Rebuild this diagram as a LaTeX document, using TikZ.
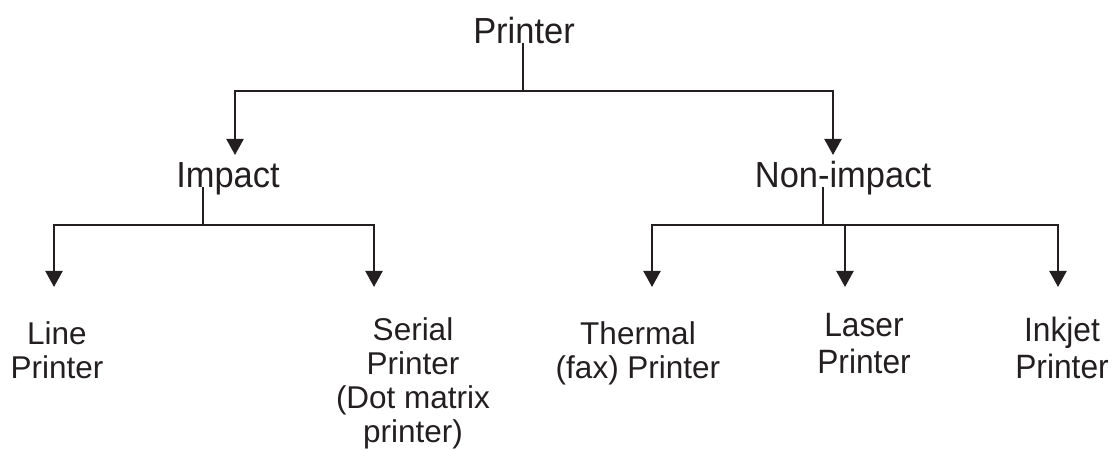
\documentclass[tikz,border=0pt]{standalone}
\usepackage{fontspec}
\setmainfont{Liberation Sans}
\newfontfamily\narrowsf[FakeStretch=0.95]{Liberation Sans}
\newfontfamily\tallsf[FakeStretch=0.94]{Liberation Sans}
\usetikzlibrary{arrows.meta}
\definecolor{ink}{RGB}{35,31,32}
\tikzset{
  head/.style={font=\narrowsf\fontsize{25.8}{28}\selectfont, inner sep=0pt, anchor=base},
  leaf/.style={font=\fontsize{22.4}{24.6}\selectfont, inner sep=0pt, anchor=north, align=center},
  tall/.style={font=\tallsf\fontsize{24}{26.4}\selectfont},
  branch/.style={-{Triangle[length=11.4pt,width=12pt]}},
}
\begin{document}
\begin{tikzpicture}[x=0.025cm, y=-0.025cm, line width=1.9pt, color=ink]
        \useasboundingbox (0,0) rectangle (1116,450);
        % classes
        \node[head] (printer) at (524,43) {Printer};
        \node[head] (impact) at (228,187) {Impact};
        \node[head] (nonimpact) at (843,187) {Non-impact};
        % kinds
        \node[leaf] (line) at (57,320) {Line\\Printer};
        \node[leaf, font=\fontsize{22.4}{24.2}\selectfont] (serial) at (413,316) {Serial\\Printer\\(Dot matrix\\printer)};
        \node[leaf] (thermal) at (638,320) {Thermal\\(fax) Printer};
        \node[leaf, tall] (laser) at (864,312) {Laser\\Printer};
        \node[leaf, tall] (inkjet) at (1062,316) {Inkjet\\Printer};
        % junctions and arrow ends
        \coordinate (top) at (523,91);
        \coordinate (imp) at (203,225);
        \coordinate (non) at (823,225);
        \coordinate (impact-in) at (235,155);
        \coordinate (nonimpact-in) at (833,155);
        \foreach \n/\x in {line/54, serial/374, thermal/652, laser/845, inkjet/1058}
            \coordinate (\n-in) at (\x,287);
        % tree
        \draw (printer.base -| top) -- (top);
        \draw[branch] (top) -| (impact-in);
        \draw[branch] (top) -| (nonimpact-in);
        \draw (impact.base -| imp) -- (imp);
        \draw (nonimpact.base -| non) -- (non);
        \foreach \j/\n in {imp/line, imp/serial, non/thermal, non/laser, non/inkjet}
            \draw[branch] (\j) -| (\n-in);
\end{tikzpicture}
\end{document}
